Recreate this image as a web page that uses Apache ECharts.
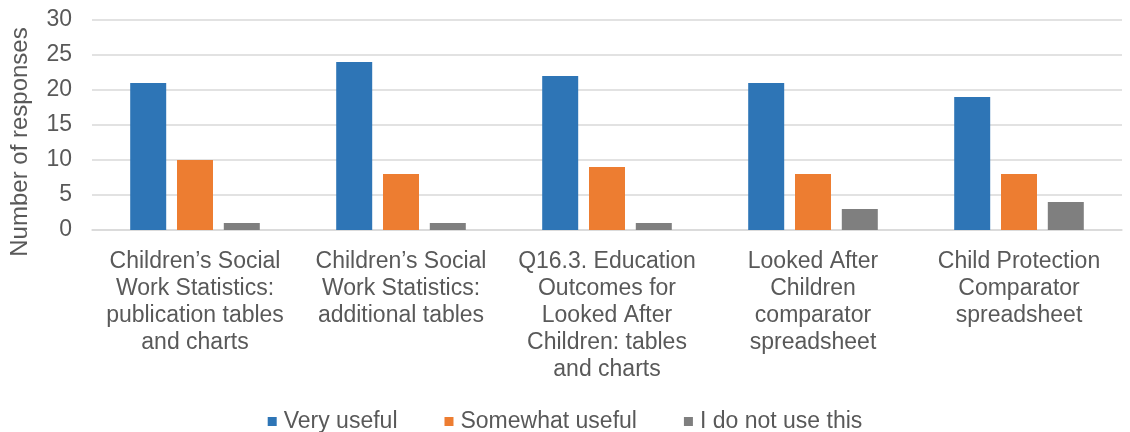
<!DOCTYPE html>
<html><head><meta charset="utf-8">
<script src="https://cdn.jsdelivr.net/npm/echarts@6/dist/echarts.min.js"></script>
<style>html,body{margin:0;padding:0;background:#fff}#c{width:1130px;height:432px}</style>
</head><body><div id="c"></div>
<script>
const categories = [
  "Children’s Social\nWork Statistics:\npublication tables\nand charts",
  "Children’s Social\nWork Statistics:\nadditional tables",
  "Q16.3. Education\nOutcomes for\nLooked After\nChildren: tables\nand charts",
  "Looked After\nChildren\ncomparator\nspreadsheet",
  "Child Protection\nComparator\nspreadsheet"
];
const veryUseful = [21, 24, 22, 21, 19];
const somewhatUseful = [10, 8, 9, 8, 8];
const notUsed = [1, 1, 1, 3, 4];
const yTicks = [0, 5, 10, 15, 20, 25, 30];

const font = "Liberation Sans, Arial, sans-serif";
const chart = echarts.init(document.getElementById('c'));
chart.setOption({
  animation: false,
  textStyle: {fontFamily: font},
  grid: {left: 90, right: 8, top: 20, bottom: 202},
  legend: {
    top: 405, left: 'center', itemWidth: 9, itemHeight: 9, itemGap: 47,
    icon: 'rect',
    textStyle: {fontSize: 23, color: '#595959', fontFamily: font, padding: [0, 0, 0, 2]},
    data: ['Very useful', 'Somewhat useful', 'I do not use this']
  },
  xAxis: {
    type: 'category', data: categories,
    axisLine: {lineStyle: {color: '#d9d9d9', width: 1.5}},
    axisTick: {show: false},
    axisLabel: {interval: 0, fontSize: 23, color: '#595959', lineHeight: 27, margin: 18, fontFamily: font}
  },
  yAxis: {
    type: 'value', min: yTicks[0], max: yTicks[yTicks.length - 1], interval: 5,
    name: 'Number of responses', nameLocation: 'middle', nameGap: 60, nameRotate: 90,
    nameTextStyle: {fontSize: 24, color: '#595959', fontFamily: font, padding: [0, 34, 0, 0]},
    axisLabel: {fontSize: 23, color: '#595959', margin: 20, fontFamily: font},
    axisLine: {show: false}, axisTick: {show: false},
    splitLine: {lineStyle: {color: '#d9d9d9', width: 1.5}}
  },
  series: [
    {name: 'Very useful', type: 'bar', data: veryUseful, barWidth: 36, barGap: '30%', itemStyle: {color: '#2E75B6'}},
    {name: 'Somewhat useful', type: 'bar', data: somewhatUseful, barWidth: 36, barGap: '30%', itemStyle: {color: '#ED7D31'}},
    {name: 'I do not use this', type: 'bar', data: notUsed, barWidth: 36, barGap: '30%', itemStyle: {color: '#7F7F7F'}}
  ]
});
</script></body></html>
